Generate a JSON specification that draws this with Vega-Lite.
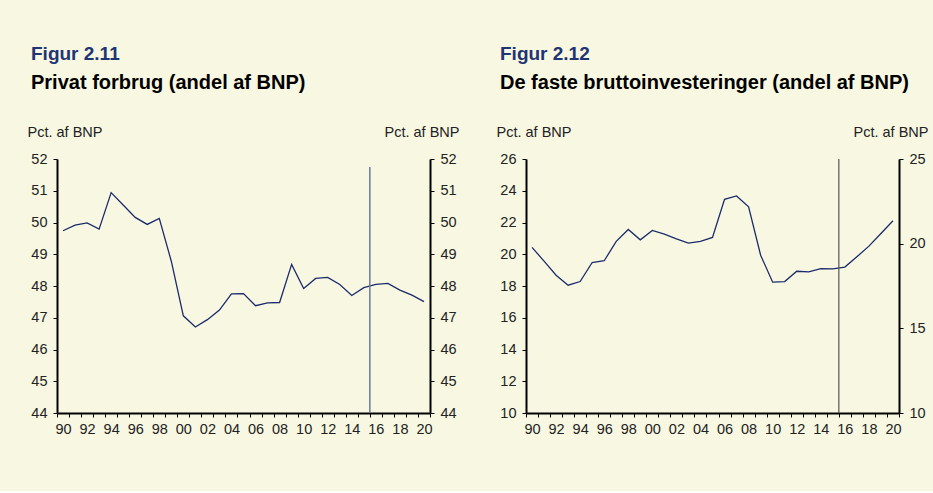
{
  "$schema": "https://vega.github.io/schema/vega-lite/v6.json",
  "background": "#f8f8e2",
  "padding": {"left": 27, "top": 45, "right": 5, "bottom": 55},
  "datasets": {
    "forbrug": [
      {"year": 1990, "v": 49.74}, {"year": 1991, "v": 49.92}, {"year": 1992, "v": 49.99}, {"year": 1993, "v": 49.79},
      {"year": 1994, "v": 50.94}, {"year": 1995, "v": 50.55}, {"year": 1996, "v": 50.16}, {"year": 1997, "v": 49.94},
      {"year": 1998, "v": 50.13}, {"year": 1999, "v": 48.78}, {"year": 2000, "v": 47.06}, {"year": 2001, "v": 46.71},
      {"year": 2002, "v": 46.94}, {"year": 2003, "v": 47.24}, {"year": 2004, "v": 47.75}, {"year": 2005, "v": 47.76},
      {"year": 2006, "v": 47.38}, {"year": 2007, "v": 47.47}, {"year": 2008, "v": 47.48}, {"year": 2009, "v": 48.68},
      {"year": 2010, "v": 47.92}, {"year": 2011, "v": 48.24}, {"year": 2012, "v": 48.27}, {"year": 2013, "v": 48.05},
      {"year": 2014, "v": 47.7}, {"year": 2015, "v": 47.95}, {"year": 2016, "v": 48.05}, {"year": 2017, "v": 48.08},
      {"year": 2018, "v": 47.87}, {"year": 2019, "v": 47.71}, {"year": 2020, "v": 47.51}
    ],
    "invest": [
      {"year": 1990, "v": 20.43}, {"year": 1991, "v": 19.57}, {"year": 1992, "v": 18.68}, {"year": 1993, "v": 18.05},
      {"year": 1994, "v": 18.28}, {"year": 1995, "v": 19.48}, {"year": 1996, "v": 19.59}, {"year": 1997, "v": 20.81},
      {"year": 1998, "v": 21.56}, {"year": 1999, "v": 20.91}, {"year": 2000, "v": 21.5}, {"year": 2001, "v": 21.27},
      {"year": 2002, "v": 20.97}, {"year": 2003, "v": 20.7}, {"year": 2004, "v": 20.81}, {"year": 2005, "v": 21.06},
      {"year": 2006, "v": 23.46}, {"year": 2007, "v": 23.67}, {"year": 2008, "v": 22.99}, {"year": 2009, "v": 19.94},
      {"year": 2010, "v": 18.24}, {"year": 2011, "v": 18.28}, {"year": 2012, "v": 18.93}, {"year": 2013, "v": 18.89},
      {"year": 2014, "v": 19.1}, {"year": 2015, "v": 19.08}, {"year": 2016, "v": 19.19}, {"year": 2017, "v": 19.84},
      {"year": 2018, "v": 20.51}, {"year": 2019, "v": 21.31}, {"year": 2020, "v": 22.11}
    ]
  },
  "config": {
    "view": {"stroke": null},
    "font": "Liberation Sans",
    "title": {
      "anchor": "start", "frame": "group", "dx": -26, "offset": 31,
      "font": "Liberation Sans", "fontSize": 19, "fontWeight": "bold", "color": "#1f3474",
      "subtitleFont": "Liberation Sans", "subtitleFontSize": 20, "subtitleFontWeight": "bold", "subtitleColor": "#000000",
      "subtitlePadding": 9
    },
    "axis": {
      "domainColor": "#000000", "domainWidth": 2, "tickColor": "#000000", "tickWidth": 1, "tickSize": 4,
      "labelFont": "Liberation Sans", "labelFontSize": 14.5, "labelColor": "#222222", "grid": false,
      "titleFont": "Liberation Sans", "titleFontSize": 14.5, "titleFontWeight": "normal", "titleColor": "#222222"
    },
    "axisX": {"labelPadding": 5, "labelAngle": 0, "labelOverlap": false, "tickBand": "extent", "title": null},
    "axisY": {"labelPadding": 6, "titleAngle": 0, "titleBaseline": "alphabetic", "titleY": -23}
  },
  "hconcat": [
    {
      "width": 373, "height": 254,
      "title": {"text": "Figur 2.11", "subtitle": "Privat forbrug (andel af BNP)"},
      "layer": [
        {
          "data": {"name": "forbrug"},
          "mark": {"type": "line", "color": "#1b2a6b", "strokeWidth": 1.3},
          "encoding": {
            "x": {"field": "year", "type": "ordinal", "scale": {"type": "band", "paddingInner": 0, "paddingOuter": 0},
                  "axis": {"labelExpr": "datum.value % 2 == 0 ? slice(toString(datum.value), 2) : ''"}},
            "y": {"field": "v", "type": "quantitative", "scale": {"domain": [44, 52], "nice": false, "zero": false},
                  "axis": {"values": [44, 45, 46, 47, 48, 49, 50, 51, 52], "title": "Pct. af BNP", "titleAlign": "left", "titleX": -30}}
          }
        },
        {
          "data": {"values": [{"year": 2016, "y1": 51.75, "y2": 44}]},
          "mark": {"type": "rule", "color": "#6d7a99", "strokeWidth": 1.5},
          "encoding": {
            "x": {"field": "year", "type": "ordinal", "bandPosition": 0},
            "y": {"field": "y1", "type": "quantitative", "scale": {"domain": [44, 52], "nice": false, "zero": false}, "axis": null},
            "y2": {"field": "y2"}
          }
        },
        {
          "data": {"name": "forbrug"},
          "mark": {"type": "line", "strokeOpacity": 0},
          "encoding": {
            "x": {"field": "year", "type": "ordinal"},
            "y": {"field": "v", "type": "quantitative", "scale": {"domain": [44, 52], "nice": false, "zero": false},
                  "axis": {"orient": "right", "values": [44, 45, 46, 47, 48, 49, 50, 51, 52], "title": "Pct. af BNP", "titleAlign": "right", "titleX": 29}}
          }
        }
      ],
      "resolve": {"scale": {"y": "independent"}}
    },
    {
      "width": 373, "height": 254,
      "title": {"text": "Figur 2.12", "subtitle": "De faste bruttoinvesteringer (andel af BNP)"},
      "layer": [
        {
          "data": {"name": "invest"},
          "mark": {"type": "line", "color": "#1b2a6b", "strokeWidth": 1.3},
          "encoding": {
            "x": {"field": "year", "type": "ordinal", "scale": {"type": "band", "paddingInner": 0, "paddingOuter": 0},
                  "axis": {"labelExpr": "datum.value % 2 == 0 ? slice(toString(datum.value), 2) : ''"}},
            "y": {"field": "v", "type": "quantitative", "scale": {"domain": [10, 26], "nice": false, "zero": false},
                  "axis": {"values": [10, 12, 14, 16, 18, 20, 22, 24, 26], "title": "Pct. af BNP", "titleAlign": "left", "titleX": -30}}
          }
        },
        {
          "data": {"values": [{"year": 2016, "y1": 26, "y2": 10}]},
          "mark": {"type": "rule", "color": "#555555", "strokeWidth": 1.2},
          "encoding": {
            "x": {"field": "year", "type": "ordinal", "bandPosition": 0},
            "y": {"field": "y1", "type": "quantitative", "scale": {"domain": [10, 26], "nice": false, "zero": false}, "axis": null},
            "y2": {"field": "y2"}
          }
        },
        {
          "data": {"name": "invest"},
          "mark": {"type": "line", "strokeOpacity": 0},
          "encoding": {
            "x": {"field": "year", "type": "ordinal"},
            "y": {"field": "v", "type": "quantitative", "scale": {"domain": [10, 25], "nice": false, "zero": false},
                  "axis": {"orient": "right", "values": [10, 15, 20, 25], "title": "Pct. af BNP", "titleAlign": "right", "titleX": 29}}
          }
        }
      ],
      "resolve": {"scale": {"y": "independent"}}
    }
  ],
  "spacing": 96,
  "bounds": "flush"
}
